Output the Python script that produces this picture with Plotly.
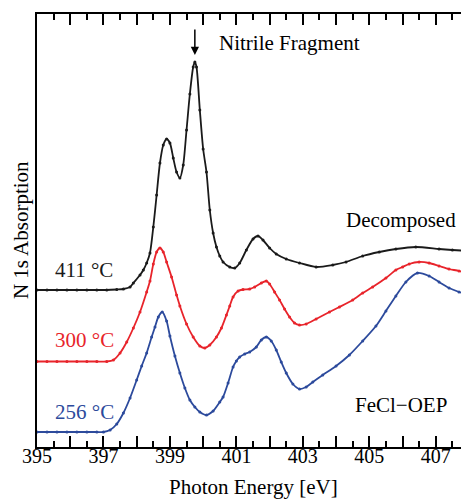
import plotly.graph_objects as go

# ---------------- data (photon energy in eV, N 1s absorption in arb. units, offset) -------------
energy_411 = [395.0, 395.3, 395.6, 395.9, 396.2, 396.5, 396.8, 397.1, 397.4, 397.6, 397.8, 397.9,
              398.1, 398.2, 398.3, 398.4, 398.5, 398.6, 398.7, 398.8, 398.9, 399.0, 399.1, 399.2,
              399.3, 399.4, 399.5, 399.6, 399.7, 399.75, 399.8, 399.9, 400.0, 400.1, 400.2, 400.3,
              400.4, 400.5, 400.6, 400.8, 400.95, 401.1, 401.3, 401.5, 401.65, 401.8, 402.0, 402.2,
              402.5, 402.9, 403.4, 403.9, 404.3, 404.8, 405.3, 405.8, 406.4, 407.1, 407.5, 408.0]
absorb_411 = [1.57, 1.57, 1.57, 1.57, 1.57, 1.57, 1.57, 1.57, 1.575, 1.58, 1.60, 1.64,
              1.72, 1.77, 1.84, 1.94, 2.20, 2.52, 2.84, 3.02, 3.08, 3.04, 2.89, 2.75,
              2.69, 2.82, 3.17, 3.53, 3.80, 3.85, 3.80, 3.37, 2.98, 2.75, 2.37, 2.14,
              2.00, 1.91, 1.85, 1.80, 1.79, 1.84, 1.97, 2.08, 2.11, 2.07, 1.99, 1.93,
              1.88, 1.84, 1.80, 1.82, 1.85, 1.91, 1.95, 1.98, 2.00, 1.98, 1.97, 1.96]

energy_300 = [395.0, 395.3, 395.6, 395.9, 396.2, 396.5, 396.8, 397.1, 397.3, 397.5, 397.7, 397.9,
              398.1, 398.3, 398.4, 398.5, 398.6, 398.7, 398.8, 398.9, 399.05, 399.2, 399.3, 399.5,
              399.7, 399.9, 400.05, 400.2, 400.4, 400.55, 400.7, 400.8, 400.9, 401.05, 401.2, 401.4,
              401.55, 401.75, 401.9, 402.0, 402.15, 402.3, 402.45, 402.6, 402.75, 402.9, 403.1, 403.4,
              403.8, 404.1, 404.5, 404.8, 405.1, 405.5, 405.8, 406.0, 406.2, 406.5, 406.8, 407.1,
              407.4, 407.7, 408.0]
absorb_300 = [0.855, 0.855, 0.855, 0.855, 0.855, 0.855, 0.855, 0.855, 0.87, 0.94, 1.05, 1.19,
              1.35, 1.55, 1.66, 1.83, 1.95, 1.99, 1.95, 1.85, 1.70, 1.52, 1.41, 1.23,
              1.10, 1.01, 0.99, 1.02, 1.10, 1.19, 1.32, 1.41, 1.50, 1.56, 1.575, 1.58,
              1.60, 1.64, 1.66, 1.63, 1.55, 1.47, 1.38, 1.30, 1.24, 1.22, 1.23, 1.28,
              1.35, 1.40, 1.47, 1.54, 1.60, 1.69, 1.77, 1.80, 1.83, 1.85, 1.84, 1.81,
              1.78, 1.76, 1.73]

energy_256 = [395.0, 395.3, 395.6, 395.9, 396.2, 396.5, 396.8, 397.0, 397.2, 397.4, 397.6, 397.8,
              398.0, 398.15, 398.3, 398.45, 398.55, 398.65, 398.77, 398.9, 399.0, 399.15, 399.3, 399.45,
              399.6, 399.75, 399.9, 400.1, 400.3, 400.5, 400.6, 400.75, 400.9, 401.0, 401.1, 401.25,
              401.4, 401.6, 401.75, 401.9, 402.05, 402.2, 402.35, 402.5, 402.7, 402.9, 403.1, 403.3,
              403.6, 404.0, 404.4, 404.8, 405.2, 405.5, 405.8, 406.1, 406.45, 406.8, 407.1, 407.4,
              407.7, 408.0]
absorb_256 = [0.15, 0.15, 0.15, 0.15, 0.15, 0.15, 0.15, 0.15, 0.17, 0.23, 0.34, 0.49,
              0.67, 0.81, 0.94, 1.10, 1.20, 1.30, 1.35, 1.26, 1.11, 0.91, 0.74, 0.59,
              0.47, 0.40, 0.35, 0.32, 0.36, 0.45, 0.50, 0.64, 0.80, 0.86, 0.90, 0.93,
              0.95, 1.00, 1.07, 1.10, 1.06, 0.97, 0.85, 0.74, 0.63, 0.58, 0.60, 0.65,
              0.72, 0.81, 0.92, 1.06, 1.21, 1.36, 1.51, 1.65, 1.74, 1.71, 1.65, 1.59,
              1.55, 1.52]

tick_values = [395, 396, 397, 398, 399, 400, 401, 402, 403, 404, 405, 406, 407, 408]
tick_labels = ["395", "", "397", "", "399", "", "401", "", "403", "", "405", "", "407", ""]

series = [
    ("411 °C", energy_411, absorb_411, "#1a1a1a"),
    ("300 °C", energy_300, absorb_300, "#e8242b"),
    ("256 °C", energy_256, absorb_256, "#2c4a9c"),
]

FONT = "Liberation Serif, Times New Roman, serif"

fig = go.Figure()
for name, ex, ay, col in series:
    fig.add_trace(go.Scatter(
        x=ex, y=ay, mode="lines+markers", name=name,
        line=dict(color=col, width=1.8, shape="spline", smoothing=0.7),
        marker=dict(color=col, size=3),
        showlegend=False,
    ))

# the page body has an 8px margin, so the figure is sized/placed to compensate
fig.update_layout(
    width=461, height=492,
    margin=dict(l=29, r=0, t=6, b=53, autoexpand=False),
    paper_bgcolor="white", plot_bgcolor="white",
    font=dict(family=FONT, size=20, color="black"),
    xaxis=dict(range=[395, 408], tickvals=tick_values, ticktext=tick_labels,
               ticks="inside", ticklen=11, tickwidth=1.5, tickcolor="black",
               showline=True, linecolor="black", linewidth=2, mirror="allticks",
               showgrid=False, zeroline=False, automargin=False, ticklabelstandoff=-10,
               minor=dict(dtick=0.5, tick0=395, ticks="inside", ticklen=6, tickwidth=1.5,
                          tickcolor="black"),
               tickfont=dict(family=FONT, size=20, color="black")),
    yaxis=dict(range=[0, 4.33], showline=True, linecolor="black", linewidth=2,
               showticklabels=False, ticks="", showgrid=False, zeroline=False,
               automargin=False),
)

# axis titles placed as paper annotations
fig.add_annotation(x=0.5, y=-0.093, xref="paper", yref="paper", text="Photon Energy [eV]",
                   showarrow=False, xanchor="center", yanchor="middle",
                   font=dict(family=FONT, size=21, color="black"))
fig.add_annotation(x=-0.038, y=0.5, xref="paper", yref="paper", text="N 1s Absorption",
                   showarrow=False, xanchor="center", yanchor="middle", textangle=-90,
                   borderpad=0,
                   font=dict(family=FONT, size=21, color="black"))

labels = [
    ("411 °C", 395.49, 1.77, "left", "#1a1a1a"),
    ("300 °C", 395.49, 1.07, "left", "#e8242b"),
    ("256 °C", 395.49, 0.35, "left", "#2c4a9c"),
    ("Decomposed", 407.67, 2.27, "right", "black"),
    ("FeCl\u2212OEP", 407.4, 0.42, "right", "black"),
    ("Nitrile Fragment", 400.41, 4.04, "left", "black"),
]
for txt, xx, yy, anc, col in labels:
    fig.add_annotation(x=xx, y=yy, text=txt, showarrow=False, xanchor=anc, yanchor="middle",
                       font=dict(family=FONT, size=21, color=col))

fig.add_annotation(x=399.75, y=3.92, text="", showarrow=True, ax=0, ay=-27,
                   arrowhead=2, arrowsize=1.1, arrowwidth=1.5, arrowcolor="black")

fig.write_html("out.html")
